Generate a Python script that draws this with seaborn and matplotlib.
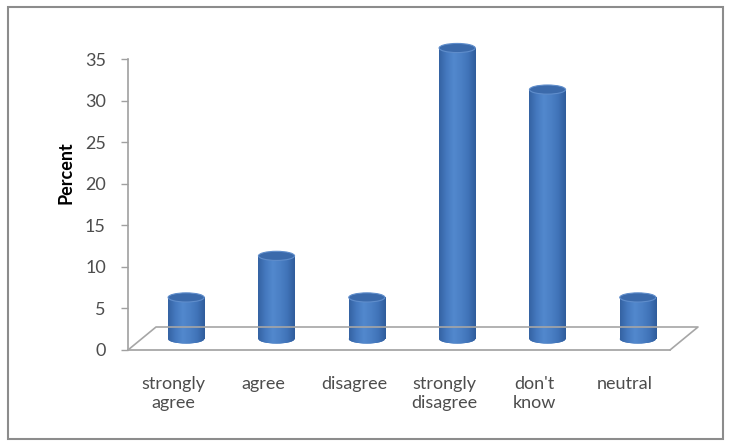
import numpy as np
import matplotlib
matplotlib.use("Agg")
import matplotlib.pyplot as plt
import matplotlib.transforms as mtransforms
from matplotlib.patches import Ellipse, Rectangle
from matplotlib.lines import Line2D
from matplotlib.colors import LinearSegmentedColormap
import seaborn as sns

# data
categories = ["strongly\nagree", "agree", "disagree", "strongly\ndisagree", "don't\nknow", "neutral"]
percent = [5, 10, 5, 35, 30, 5]
y_ticks = [0, 5, 10, 15, 20, 25, 30, 35]

sns.set_style("white")
plt.rcParams["font.family"] = ["Lato", "DejaVu Sans"]

fig = plt.figure(figsize=(7.30, 4.43), dpi=100)
ax = fig.add_axes([128 / 730, 93 / 443, 542 / 730, 291 / 443])

sns.barplot(x=categories, y=percent, color="#4a7fc4", width=0.4,
            saturation=1, ax=ax)

# 3D look: floor depth, bars sit half way into it
floor_off = mtransforms.ScaledTranslation(0.28, 0.23, fig.dpi_scale_trans)
bar_off = mtransforms.ScaledTranslation(0.13, 0.11, fig.dpi_scale_trans)
bar_tr = ax.transData + bar_off

cyl = LinearSegmentedColormap.from_list(
    "cyl", ["#3563a3", "#4579bf", "#5288cd", "#4b80c5", "#4073b8", "#305d9c"])
grad = np.linspace(0, 1, 64).reshape(1, -1)
cap_h = 1.1

for bar in ax.patches:
    bar.set_transform(bar_tr)
    bar.set_edgecolor("none")
    bar.set_clip_on(False)
    x0, w, h = bar.get_x(), bar.get_width(), bar.get_height()
    cx = x0 + w / 2

    # rounded bottom
    bot = Ellipse((cx, 0), w, cap_h, transform=bar_tr, facecolor="#4477bb",
                  edgecolor="none", zorder=2)
    ax.add_patch(bot)
    im = ax.imshow(grad, cmap=cyl, aspect="auto", transform=bar_tr,
                   extent=[x0, x0 + w, -cap_h / 2, cap_h / 2], zorder=2.1)
    im.set_clip_path(bot)

    # body
    im = ax.imshow(grad, cmap=cyl, aspect="auto", transform=bar_tr,
                   extent=[x0, x0 + w, 0, h], zorder=2.2)
    im.set_clip_path(bar)

    # top cap
    top = Ellipse((cx, h), w, cap_h, transform=bar_tr, facecolor="#3b6aab",
                  edgecolor="#5f8dcb", lw=0.8, zorder=3, clip_on=False)
    ax.add_patch(top)

# floor outline (front edge is the bottom spine)
floor_tr = ax.transAxes + floor_off
front = ax.transAxes.transform([(0, 0), (1, 0)])
back = floor_tr.transform([(0, 0), (1, 0)])
pts = fig.transFigure.inverted().transform([front[0], back[0], back[1], front[1]])
fig.add_artist(Line2D(pts[:, 0], pts[:, 1], color="#a6a6a6", lw=1.2))

ax.set_xlim(-0.5, 5.5)
ax.set_ylim(0, 35)
ax.set_yticks(y_ticks)
ax.set_xlabel("")
ax.set_ylabel("Percent", fontsize=13, fontweight="bold", color="black")
ax.yaxis.set_label_coords(-0.098, 0.608)

for side in ["top", "right"]:
    ax.spines[side].set_visible(False)
for side in ["left", "bottom"]:
    ax.spines[side].set_color("#a0a0a0")
    ax.spines[side].set_linewidth(1.2)

ax.tick_params(axis="y", direction="out", length=5, width=1, color="#a0a0a0",
               pad=11, labelsize=13, labelcolor="#4d4d4d", left=True)
ax.tick_params(axis="x", length=0, pad=19, labelsize=13, labelcolor="#4d4d4d")
ax.set_facecolor("none")

# chart area border
fig.add_artist(Rectangle((8 / 730, 4 / 443), 715 / 730, 432 / 443,
                         transform=fig.transFigure, fill=False,
                         edgecolor="#8c8c8c", lw=1.5))

fig.savefig("out.png", dpi=100)
